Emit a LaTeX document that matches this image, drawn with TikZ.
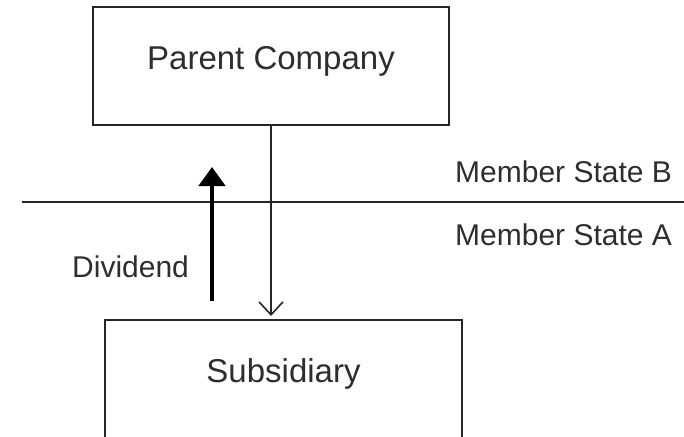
\documentclass[tikz,border=0pt]{standalone}
\usepackage{fontspec}
\setmainfont{Liberation Sans}
\usetikzlibrary{arrows.meta, positioning, calc}
\definecolor{boxline}{HTML}{262626}
\definecolor{textgray}{HTML}{2E2E2E}
\tikzset{
  entity/.style={rectangle, draw=boxline, line width=1.6pt, fill=white, inner sep=0pt},
  entitytext/.style={font=\fontsize{33}{40}\selectfont, text=textgray, anchor=base},
  statelabel/.style={font=\fontsize{30}{36}\selectfont, text=textgray, anchor=base west, inner sep=0pt},
  flowarr/.style={-{Straight Barb[length=13pt,width=24pt,line width=1.6pt]}, line width=1.6pt, boxline},
  divarr/.style={-{Triangle[length=19pt,width=26pt]}, line width=4.5pt, black},
}

\begin{document}
\begin{tikzpicture}[x=1pt, y=-1pt]
  \useasboundingbox (0,0) rectangle (684,436);
  \clip (0,0) rectangle (684,436);

  \node[entity, minimum width=356pt, minimum height=118pt] (parent) at (271,66) {};
  \node[entitytext] (parenttext) at ($(parent.north)+(0,63)$) {Parent Company};

  \node[entity, minimum width=357pt, minimum height=140pt, anchor=north] (sub) at (283.5,319) {};
  \node[entitytext] (subtext) at ($(sub.north)+(0,63)$) {Subsidiary};

  % Border between the two states
  \coordinate (borderW) at (22,202);
  \coordinate (borderE) at (684,202);
  \draw[boxline, line width=1.6pt] (borderW) -- (borderE);

  \node[statelabel] (stateB) at (455,182) {Member State B};
  \node[statelabel] (stateA) at (455,245) {Member State A};

  \draw[flowarr, shorten >=3pt] (parent.south) -- (parent.south |- sub.north);

  % Dividend flow
  \coordinate (divfrom) at (212,301);
  \coordinate (divto) at (212,167);
  \draw[divarr] (divfrom) -- (divto);
  \node[statelabel] (divlabel) at (72,277) {Dividend};
\end{tikzpicture}
\end{document}
